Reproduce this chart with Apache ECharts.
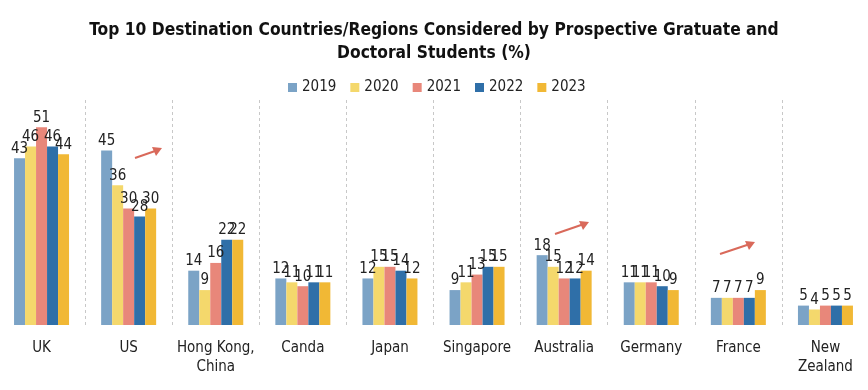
<!DOCTYPE html>
<html>
<head>
<meta charset="utf-8">
<script src="https://cdn.jsdelivr.net/npm/echarts@6/dist/echarts.min.js"></script>
<style>html,body{margin:0;padding:0;background:#fff;}#c{width:868px;height:390px;}</style>
</head>
<body>
<div id="c"></div>
<script>
const categories = ['UK', 'US', 'Hong Kong,\nChina', 'Canda', 'Japan', 'Singapore', 'Australia', 'Germany', 'France', 'New\nZealand'];
const years = ['2019', '2020', '2021', '2022', '2023'];
const v2019 = [43, 45, 14, 12, 12, 9, 18, 11, 7, 5];
const v2020 = [46, 36, 9, 11, 15, 11, 15, 11, 7, 4];
const v2021 = [51, 30, 16, 10, 15, 13, 12, 11, 7, 5];
const v2022 = [46, 28, 22, 11, 14, 15, 12, 10, 7, 5];
const v2023 = [44, 30, 22, 11, 12, 15, 14, 9, 9, 5];
const colors = ['#7ba3c6', '#f4d86c', '#e8877a', '#2f6fa8', '#f1b835'];
const values = [v2019, v2020, v2021, v2022, v2023];
const FONT = '"DejaVu Sans Condensed", "Liberation Sans", sans-serif';

const chart = echarts.init(document.getElementById('c'));
const series = years.map((y, i) => ({
  name: y,
  type: 'bar',
  data: values[i],
  barWidth: 11,
  barGap: '0%',
  itemStyle: { color: colors[i] },
  label: { show: true, position: 'top', distance: 2, color: '#222', fontSize: 15, fontFamily: FONT }
}));
chart.setOption({
  animation: false,
  backgroundColor: '#fff',
  title: {
    text: 'Top 10 Destination Countries/Regions Considered by Prospective Gratuate and\nDoctoral Students (%)',
    left: 'center', top: 14,
    textStyle: { fontSize: 17.25, fontWeight: 'bold', color: '#111', fontFamily: FONT, lineHeight: 23 }
  },
  legend: {
    data: years, top: 75, left: 283, itemWidth: 9, itemHeight: 9, itemGap: 14,
    icon: 'rect',
    textStyle: { fontSize: 15, color: '#222', fontFamily: FONT }
  },
  grid: { left: -2, right: -1, top: 100, bottom: 65, outerBoundsMode: 'none' },
  xAxis: {
    type: 'category', data: categories,
    axisLine: { show: false }, axisTick: { show: false },
    axisLabel: { interval: 0, fontSize: 15, color: '#222', margin: 14, fontFamily: FONT, lineHeight: 19 },
    splitLine: { show: true, interval: 0, lineStyle: { type: [3, 3], color: '#c8c8c8', width: 1 } }
  },
  yAxis: { type: 'value', min: 0, max: 58, show: false, splitLine: { show: false } },
  series: series,
  graphic: [
    { type: 'line', shape: { x1: 135, y1: 158, x2: 158, y2: 150 }, style: { stroke: '#d9695a', lineWidth: 2 } },
    { type: 'polygon', shape: { points: [[162, 148], [152, 147], [156, 156]] }, style: { fill: '#d9695a' } },
    { type: 'line', shape: { x1: 555, y1: 234, x2: 584, y2: 224 }, style: { stroke: '#d9695a', lineWidth: 2 } },
    { type: 'polygon', shape: { points: [[589, 222], [579, 221], [583, 230]] }, style: { fill: '#d9695a' } },
    { type: 'line', shape: { x1: 720, y1: 254, x2: 750, y2: 244 }, style: { stroke: '#d9695a', lineWidth: 2 } },
    { type: 'polygon', shape: { points: [[755, 242], [745, 241], [749, 250]] }, style: { fill: '#d9695a' } }
  ]
});
</script>
</body>
</html>
